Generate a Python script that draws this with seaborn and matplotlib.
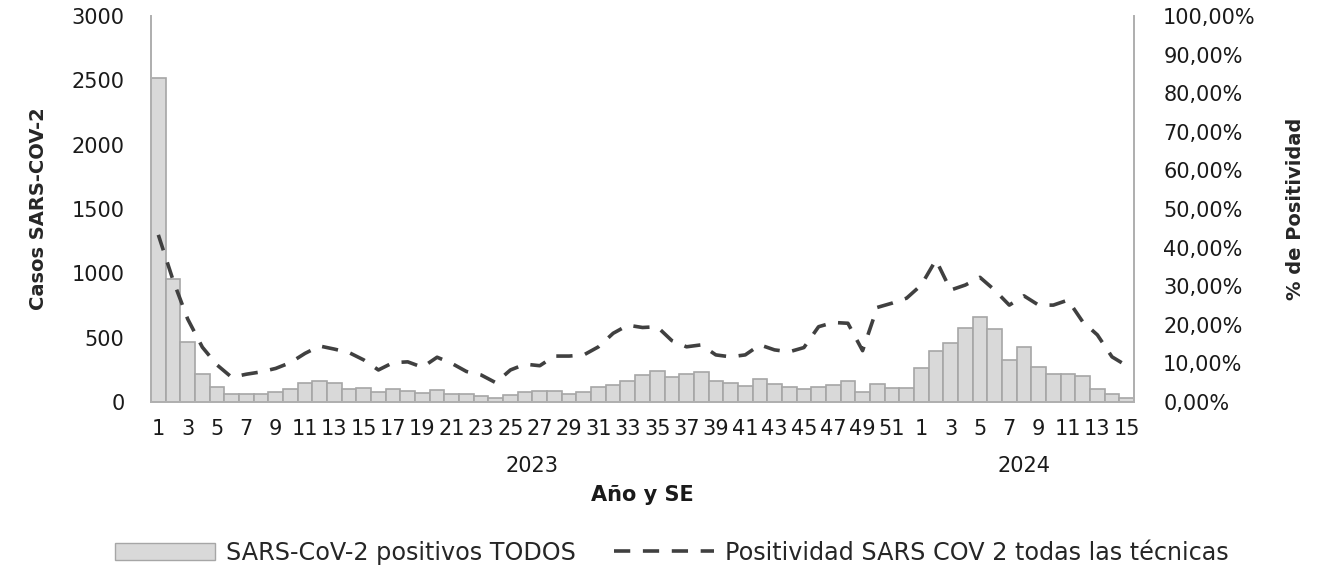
import numpy as np
import pandas as pd
import matplotlib
matplotlib.use("Agg")
import matplotlib.pyplot as plt
from matplotlib.transforms import blended_transform_factory
from matplotlib.patches import Patch
from matplotlib.lines import Line2D
import seaborn as sns

# ---- data ----
years = ["2023"] * 52 + ["2024"] * 15
weeks = list(range(1, 53)) + list(range(1, 16))
cases = [2520, 955, 465, 220, 115, 62, 60, 60, 75, 103, 147, 160, 145, 100, 105, 80,
         100, 84, 72, 96, 65, 62, 49, 34, 51, 78, 83, 86, 65, 78, 114, 132,
         166, 210, 238, 197, 218, 231, 166, 148, 127, 176, 138, 119, 103, 114, 135, 163,
         78, 142, 106, 106,
         267, 396, 461, 575, 663, 565, 326, 425, 274, 220, 216, 202, 103, 65, 31]
positividad = [43.3, 31.6, 21.5, 14.2, 9.6, 6.4, 7.2, 7.8, 8.7, 10.2, 12.6, 14.5, 13.7, 12.8, 10.9, 8.3,
               10.2, 10.4, 9.0, 11.6, 10.0, 7.9, 7.0, 5.0, 8.3, 9.8, 9.4, 11.9, 11.9, 12.2, 14.3, 17.8,
               19.9, 19.3, 19.5, 15.9, 14.3, 14.8, 12.2, 11.7, 12.2, 14.8, 13.5, 13.0, 14.1, 19.5, 20.6, 20.4,
               13.3, 24.5, 25.6, 26.9,
               30.3, 36.8, 29.0, 30.3, 32.3, 29.0, 25.1, 27.5, 25.1, 25.1, 26.4, 20.8, 17.4, 11.7, 9.4]
y_ticks_left = [0, 500, 1000, 1500, 2000, 2500, 3000]
y_ticks_right = [0, 10, 20, 30, 40, 50, 60, 70, 80, 90, 100]

df = pd.DataFrame({"year": years, "week": weeks, "cases": cases, "pos": positividad})
df["idx"] = np.arange(len(df))

sns.set_theme(style="white")
plt.rcParams["font.family"] = ["DejaVu Sans"]

fig = plt.figure(figsize=(13.25, 5.74), dpi=100)
ax = fig.add_axes([151 / 1325, 1 - 402 / 574, (1134 - 151) / 1325, (402 - 16) / 574])

sns.barplot(data=df, x="idx", y="cases", ax=ax, color="#d9d9d9", width=1.0,
            edgecolor="#a6a6a6", linewidth=1.2, saturation=1)
ax.set_ylim(0, 3000)
ax.set_xlim(-0.5, len(df) - 0.5)
ax.set_yticks(y_ticks_left)
ax.set_yticklabels([str(v) for v in y_ticks_left])

odd = df[df["week"] % 2 == 1]
ax.set_xticks(odd["idx"].tolist())
ax.set_xticklabels(odd["week"].astype(str).tolist())
ax.tick_params(axis="x", length=0, pad=12, labelsize=15, labelcolor="#1a1a1a")
ax.tick_params(axis="y", length=0, pad=19, labelsize=15, labelcolor="#1a1a1a")
ax.set_xlabel("")
ax.set_ylabel("Casos SARS-COV-2", fontsize=14, fontweight="bold", labelpad=17)

ax2 = ax.twinx()
sns.lineplot(data=df, x="idx", y="pos", ax=ax2, color="#404040", linewidth=2.6,
             linestyle=(0, (4.5, 3.5)))
ax2.set_ylim(0, 100)
ax2.set_yticks(y_ticks_right)
ax2.set_yticklabels([f"{v},00%" for v in y_ticks_right])
ax2.tick_params(axis="y", length=0, pad=21, labelsize=15, labelcolor="#1a1a1a")
ax2.set_ylabel("% de Positividad", fontsize=14, fontweight="bold", labelpad=22)
ax2.set_xlabel("")

for a in (ax, ax2):
    for s in a.spines.values():
        s.set_color("#b0b0b0")
        s.set_linewidth(1.3)
    a.spines["top"].set_visible(False)

# year labels
trans = blended_transform_factory(ax.transData, ax.transAxes)
for yr, grp in df.groupby("year"):
    center = (grp["idx"].min() + grp["idx"].max()) / 2
    ax.text(center, -0.165, yr, transform=trans, ha="center", va="center",
            fontsize=15, color="#1a1a1a")
ax.text(0.5, -0.24, "Año y SE", transform=ax.transAxes, ha="center", va="center",
        fontsize=15, fontweight="bold", color="#1a1a1a")

# legend
handles = [Patch(facecolor="#d9d9d9", edgecolor="#a6a6a6", label="SARS-CoV-2 positivos TODOS"),
           Line2D([0], [0], color="#404040", lw=2.6, linestyle=(0, (4.5, 3.5)),
                  label="Positividad SARS COV 2 todas las técnicas")]
fig.legend(handles=handles, loc="center", bbox_to_anchor=(0.507, 0.037), ncol=2,
           frameon=False, handlelength=4.2, handleheight=0.75, handletextpad=0.45,
           columnspacing=1.6, prop={"size": 17.2})

fig.savefig("out.png", dpi=100)
